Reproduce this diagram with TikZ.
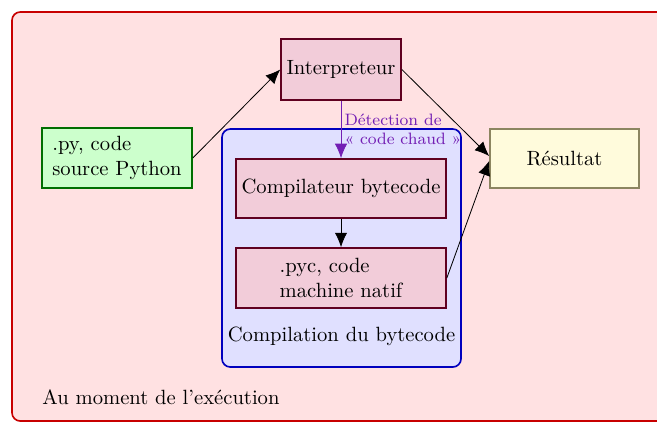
\documentclass[tikz,border=0pt]{standalone}
\usetikzlibrary{arrows.meta,positioning}
\def\pxu{0.485pt}
\definecolor{framered}{RGB}{200,0,0}
\definecolor{framefill}{RGB}{255,225,226}
\definecolor{boxfill}{RGB}{242,204,217}
\definecolor{boxdraw}{RGB}{96,0,32}
\definecolor{srcfill}{RGB}{204,255,204}
\definecolor{srcdraw}{RGB}{0,110,0}
\definecolor{resfill}{RGB}{255,251,220}
\definecolor{resdraw}{RGB}{140,133,96}
\definecolor{zonefill}{RGB}{224,224,255}
\definecolor{zonedraw}{RGB}{0,0,190}
\definecolor{hot}{RGB}{115,30,180}
\tikzset{
  x=\pxu, y=-\pxu,
  stagebox/.style={draw=boxdraw, fill=boxfill, thick, inner sep=0pt},
  flow/.style={-{Latex[length=7pt,width=6pt]}, thin},
}
\begin{document}
\begin{tikzpicture}
\useasboundingbox (0,0) rectangle (657,423);
\clip (0,0) rectangle (657,423);
% execution-time frame
\draw[framered, fill=framefill, thick, rounded corners=4pt] (12,12) rectangle (690,421);
\node[anchor=west, inner sep=0pt] (runtime) at (42,397) {Au moment de l'exécution};
% bytecode compilation zone
\draw[zonedraw, fill=zonefill, thick, rounded corners=4pt] (222,129) rectangle (461,367);
\node (zonelabel) at (341.5,336) {Compilation du bytecode};
% nodes
\node[stagebox, minimum width=120*\pxu, minimum height=61*\pxu] (interp) at (341,69.5) {Interpreteur};
\node[draw=srcdraw, fill=srcfill, thick, minimum width=150*\pxu, minimum height=60*\pxu, align=left] (src) at (117,158) {.py, code\\source Python};
\node[draw=resdraw, fill=resfill, thick, minimum width=149*\pxu, minimum height=59*\pxu] (res) at (564.5,158.5) {Résultat};
\node[stagebox, minimum width=210*\pxu, minimum height=59*\pxu] (comp) at (341,188.5) {Compilateur bytecode};
\node[stagebox, minimum width=210*\pxu, minimum height=60*\pxu, align=left] (pyc) at (341,278) {.pyc, code\\machine natif};
% connectors
\draw[flow] (src.east) -- (interp.west);
\draw[flow] (interp.east) -- ([yshift=1.2pt]res.west);
\draw[flow] (pyc.east) -- ([yshift=-1.2pt]res.west);
\draw[flow, hot] (interp.south) -- node[right, font=\footnotesize, align=left, inner sep=1.5pt, text=hot] (hotlabel) {Détection de\\« code chaud »} (comp.north);
\draw[flow] (comp.south) -- (pyc.north);
\end{tikzpicture}
\end{document}
